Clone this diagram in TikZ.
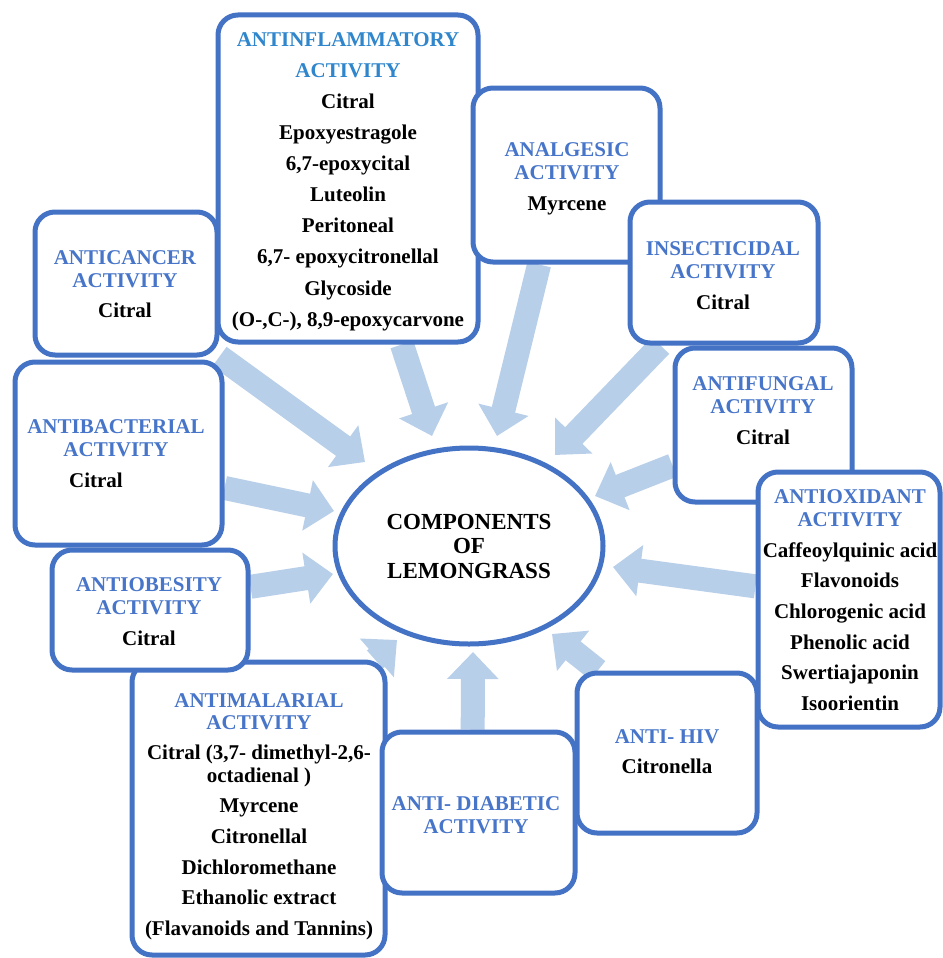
\documentclass[tikz,border=0pt]{standalone}
\usepackage{fontspec}
\setmainfont{Liberation Serif}
\usetikzlibrary{shapes.geometric,arrows.meta,backgrounds}
\definecolor{bord}{HTML}{4472C4}
\definecolor{ttl}{HTML}{4775C9}
\definecolor{ttlA}{HTML}{2F86CC}
\definecolor{arr}{HTML}{B8CFEA}
\newcommand{\ttlc}[1]{\textcolor{ttl}{#1}}
\newcommand{\ttla}[1]{\textcolor{ttlA}{#1}}
\newcommand{\fstrut}{\rule{0pt}{16pt}}
\begin{document}
\begin{tikzpicture}[x=1pt,y=-1pt,
  box/.style={draw=bord, line width=5pt, rounded corners=20pt, fill=white, inner sep=0pt},
  txt/.style={anchor=north, inner sep=0pt, align=center, font=\fontsize{21}{23}\selectfont\bfseries},
  flow/.style={draw=arr, line width=24pt, -{Triangle[length=27pt,width=50pt]}}]
\useasboundingbox (0,0) rectangle (942,958);
% arrow tips
\coordinate (t1) at (365,462);
\coordinate (t2) at (334,511);
\coordinate (t3) at (333,574);
\coordinate (t4) at (432,436);
\coordinate (t5) at (497,436);
\coordinate (t6) at (555,455);
\coordinate (t7) at (595,496);
\coordinate (t8) at (613,567);
\coordinate (t9) at (552,634);
\coordinate (t10) at (473,652);
\coordinate (t11) at (397,640);
% boxes
\node[box, minimum width=260pt, minimum height=327pt] (inflam) at (348,178.5) {};
\node[box, minimum width=182pt, minimum height=143pt] (cancer) at (126,283.5) {};
\node[box, minimum width=207pt, minimum height=183pt] (bact) at (118.5,453.5) {};
\node[box, minimum width=253pt, minimum height=293pt] (malar) at (258.5,808.5) {};
\node[box, minimum width=196pt, minimum height=120pt] (obes) at (150,610) {};
\node[box, minimum width=193pt, minimum height=161pt] (diab) at (478.5,812.5) {};
\node[box, minimum width=180pt, minimum height=160pt] (hiv) at (667,753) {};
\node[box, minimum width=187pt, minimum height=174pt] (analg) at (566.5,175) {};
\node[box, minimum width=188pt, minimum height=141pt] (insect) at (724,272.5) {};
\node[box, minimum width=177pt, minimum height=154pt] (fung) at (763.5,425) {};
\node[box, minimum width=182pt, minimum height=255pt] (oxid) at (849,599.5) {};
\node[draw=bord, line width=5pt, fill=white, ellipse, minimum width=268pt, minimum height=196pt, inner sep=0pt, align=center, font=\fontsize{23}{24.5}\selectfont\bfseries] (comp) at (469,546) {COMPONENTS\\ OF\\ LEMONGRASS};
% texts
\node[txt, font=\fontsize{21}{31.1}\selectfont\bfseries] (inflamT) at (348,30) {\fstrut\ttla{ANTINFLAMMATORY}\\ \ttla{ACTIVITY}\\ Citral\\ Epoxyestragole\\ 6,7-epoxycital\\ Luteolin\\ Peritoneal\\ 6,7- epoxycitronellal\\ Glycoside\\ (O-,C-), 8,9-epoxycarvone};
\node[txt] (analgT) at (567,140) {\fstrut\ttlc{ANALGESIC}\\ \ttlc{ACTIVITY}\\[8pt] Myrcene};
\node[txt] (insectT) at (723,239) {\fstrut\ttlc{INSECTICIDAL}\\ \ttlc{ACTIVITY}\\[8pt] Citral};
\node[txt] (fungT) at (763,374) {\fstrut\ttlc{ANTIFUNGAL}\\ \ttlc{ACTIVITY}\\[8pt] Citral};
\node[txt] (oxidT) at (850,487) {\fstrut\ttlc{ANTIOXIDANT}\\ \ttlc{ACTIVITY}\\[8pt] Caffeoylquinic acid\\[7.6pt] Flavonoids\\[7.6pt] Chlorogenic acid\\[7.6pt] Phenolic acid\\[7.6pt] Swertiajaponin\\[7.6pt] Isoorientin};
\node[txt] (hivT) at (667,727) {\fstrut\ttlc{ANTI- HIV}\\[7pt] Citronella};
\node[txt] (diabT) at (476,794) {\fstrut\ttlc{ANTI- DIABETIC}\\ \ttlc{ACTIVITY}};
\node[txt] (malarT) at (259,691) {\fstrut\ttlc{ANTIMALARIAL}\\[-1pt] \ttlc{ACTIVITY}\\[7pt] Citral (3,7- dimethyl-2,6-\\ octadienal )\\[7.6pt] Myrcene\\[7.6pt] Citronellal\\[7.6pt] Dichloromethane\\[7.6pt] Ethanolic extract\\[7.6pt] (Flavanoids and Tannins)};
\node[txt] (obesT) at (149,575) {\fstrut\ttlc{ANTIOBESITY}\\ \ttlc{ACTIVITY}\\[8pt] Citral};
\node[txt] (bactT) at (116,417) {\fstrut\ttlc{ANTIBACTERIAL}\\ \ttlc{ACTIVITY}\\[8pt] Citral\hspace*{40pt}};
\node[txt] (cancerT) at (125,248) {\fstrut\ttlc{ANTICANCER}\\ \ttlc{ACTIVITY}\\[7pt] Citral};
% arrows behind
\begin{pgfonlayer}{background}
\fill[white] (0,0) rectangle (942,958);
\draw[flow] (cancer.-38) -- (t1);
\draw[flow] (bact.-18) -- (t2);
\draw[flow] (obes.13) -- (t3);
\draw[flow] (inflam.-72) -- (t4);
\draw[flow] (analg.-107) -- (t5);
\draw[flow] (insect.-131) -- (t6);
\draw[flow] (fung.-156) -- (t7);
\draw[flow] (oxid.172) -- (t8);
\draw[flow] (hiv.130) -- (t9);
\draw[flow] (diab.94) -- (t10);
\draw[flow] (malar.52) -- (t11);
\end{pgfonlayer}
\end{tikzpicture}
\end{document}
